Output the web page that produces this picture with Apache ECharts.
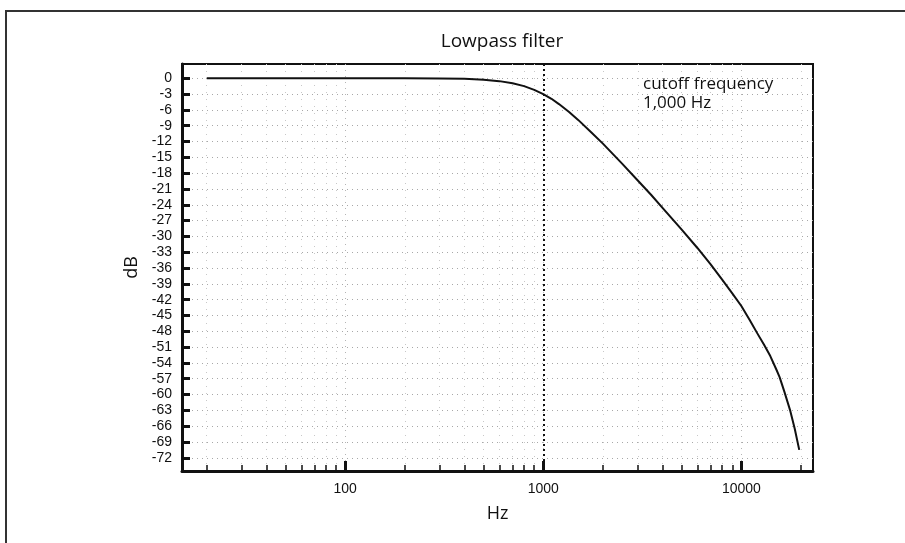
<!DOCTYPE html>
<html>
<head>
<meta charset="utf-8">
<script src="https://cdn.jsdelivr.net/npm/echarts@6/dist/echarts.min.js"></script>
<style>html,body{margin:0;padding:0;background:#fff}#c{width:905px;height:543px}</style>
</head>
<body>
<div id="c"></div>
<script>
var freqs = [20, 50, 100, 200, 300, 400, 500, 600, 700, 800, 900, 1000, 1100, 1200, 1350, 1500, 1750, 2000, 2500, 3000, 3500, 4000, 5000, 6000, 7000, 8000, 9000, 10000, 11000, 12000, 13000, 14000, 15000, 15600, 16500, 17600, 18600, 19600];
var dbValues = [0, 0, 0, -0.02, -0.04, -0.11, -0.27, -0.55, -0.96, -1.5, -2.2, -3.0, -3.9, -4.9, -6.4, -7.9, -10.3, -12.4, -16.2, -19.4, -22.1, -24.6, -28.7, -32.2, -35.3, -38.2, -40.8, -43.2, -45.8, -48.3, -50.5, -52.7, -55.2, -56.7, -59.5, -62.9, -66.5, -70.5];
var xMajorTicks = [100, 1000, 10000];
var xMinorTicks = [20, 30, 40, 50, 60, 70, 80, 90, 200, 300, 400, 500, 600, 700, 800, 900, 2000, 3000, 4000, 5000, 6000, 7000, 8000, 9000, 20000];
var yTicks = [0, -3, -6, -9, -12, -15, -18, -21, -24, -27, -30, -33, -36, -39, -42, -45, -48, -51, -54, -57, -60, -63, -66, -69, -72];
var cutoff = 1000;
var titleText = 'Lowpass filter';
var noteLines = ['cutoff frequency', '1,000 Hz'];

var curve = freqs.map(function (f, i) { return [f, dbValues[i]]; });
var humanist = '"Open Sans", "Noto Sans", sans-serif';
var chart = echarts.init(document.getElementById('c'));
chart.setOption({
  animation: false,
  backgroundColor: '#fff',
  title: {
    text: titleText, left: 497, top: 27, textAlign: 'center',
    textStyle: { fontFamily: humanist, fontSize: 19, fontWeight: 'normal', color: '#111' }
  },
  grid: { left: 182, right: 92, top: 64, bottom: 72, show: true, borderColor: '#111', borderWidth: 2, backgroundColor: 'transparent', outerBoundsMode: 'none' },
  xAxis: [{
    type: 'log', logBase: 10, min: 15, max: 23000, position: 'bottom',
    name: 'Hz', nameLocation: 'middle', nameGap: 34,
    nameTextStyle: { fontFamily: humanist, fontSize: 18, color: '#111' },
    axisLine: { show: true, onZero: false, lineStyle: { color: '#111', width: 3 } },
    axisTick: { show: true, inside: true, length: 10, lineStyle: { color: '#111', width: 3 }, customValues: xMajorTicks },
    axisLabel: { show: true, customValues: xMajorTicks, margin: 11, fontFamily: '"Liberation Sans", Arial, sans-serif', fontSize: 14, color: '#111',
      formatter: function (v) { return String(Math.round(v)); } },
    splitLine: { show: true, lineStyle: { color: '#b5b5b5', type: [1, 5], width: 1 } },
    minorTick: { show: false }, minorSplitLine: { show: false }
  }, {
    type: 'log', logBase: 10, min: 15, max: 23000, position: 'bottom',
    axisLine: { show: false, onZero: false },
    axisTick: { show: true, inside: true, length: 6, lineStyle: { color: '#111', width: 1.5 }, customValues: xMinorTicks },
    axisLabel: { show: false },
    splitLine: { show: true, lineStyle: { color: '#c8c8c8', type: [1, 6], width: 1 } }
  }],
  yAxis: {
    type: 'value', min: -74.5, max: 2.7,
    name: 'dB', nameLocation: 'middle', nameGap: 28, nameRotate: 90,
    nameTextStyle: { fontFamily: humanist, fontSize: 18, color: '#111' },
    axisLine: { show: true, onZero: false, lineStyle: { color: '#111', width: 3 } },
    axisTick: { show: true, inside: true, length: 8, lineStyle: { color: '#111', width: 3 }, customValues: yTicks },
    axisLabel: { show: true, customValues: yTicks, margin: 10, fontFamily: '"Liberation Sans", Arial, sans-serif', fontSize: 14, color: '#111' },
    splitLine: { show: true, lineStyle: { color: '#a8a8a8', type: [1, 4], width: 1 } }
  },
  series: [{
    type: 'line', xAxisIndex: 0, data: curve, showSymbol: false, smooth: false,
    lineStyle: { color: '#111', width: 2, join: 'round' },
    markLine: {
      silent: true, symbol: ['none', 'none'], label: { show: false },
      lineStyle: { color: '#111', type: [2, 3], width: 2 },
      data: [{ xAxis: cutoff }]
    }
  }],
  graphic: [
    { type: 'rect', shape: { x: 6, y: 11, width: 1000, height: 1000 }, style: { fill: 'none', stroke: '#333', lineWidth: 2 }, silent: true },
    { type: 'text', left: 643, top: 75, style: { text: noteLines.join('\n'), font: '17px "Open Sans", sans-serif', lineHeight: 19, fill: '#111' } }
  ]
});
</script>
</body>
</html>
